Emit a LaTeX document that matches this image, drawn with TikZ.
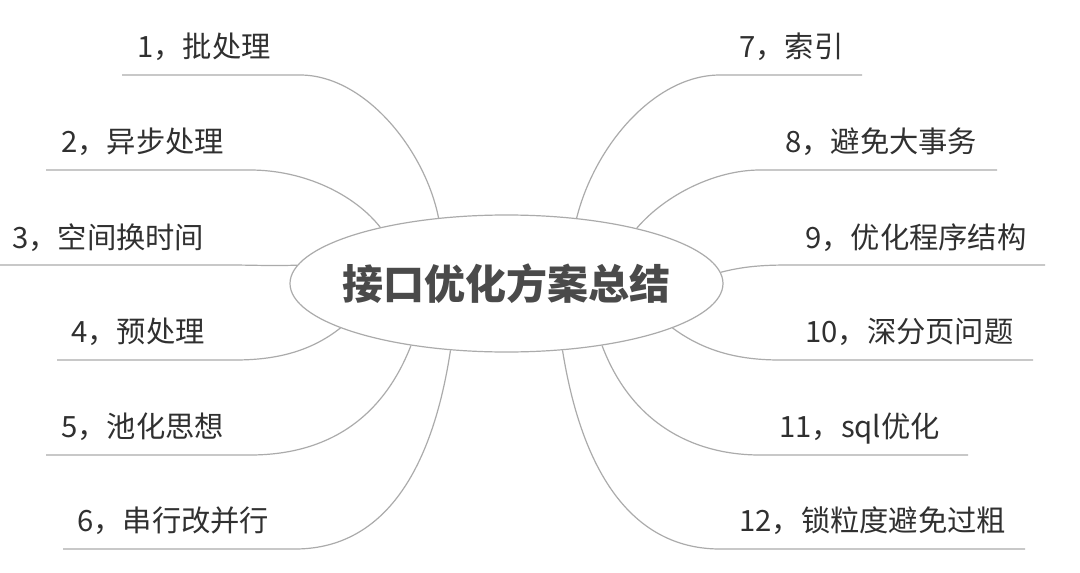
\documentclass[tikz,border=0pt]{standalone}
\usepackage{fontspec}
\setmainfont{Noto Sans CJK SC}
\usetikzlibrary{shapes.geometric}
\definecolor{linegray}{HTML}{ABABAB}
\definecolor{txt}{HTML}{303030}
\definecolor{ttl}{HTML}{4A4A4A}
\begin{document}
\begin{tikzpicture}[x=1pt,y=-1pt,
  branch/.style={draw=linegray,line width=1.2pt},
  lbl/.style={anchor=base west,inner sep=0pt,text=txt,font=\fontsize{29.3}{31}\selectfont},
  hub/.style={ellipse,draw=linegray,line width=1.2pt,minimum width=433pt,minimum height=137pt,inner sep=0pt,fill=white},
  ttlstyle/.style={text=ttl,font=\fontsize{41}{44}\selectfont\bfseries,inner sep=0pt}]
\useasboundingbox[fill=white] (0,0) rectangle (1080,573);
% junctions and free ends
\coordinate (j1) at (300,75);  \coordinate (e1) at (122,75);
\coordinate (j2) at (250,170); \coordinate (e2) at (46,170);
\coordinate (j3) at (230,265); \coordinate (e3) at (0,265);
\coordinate (j4) at (235,360); \coordinate (e4) at (57,360);
\coordinate (j5) at (250,455); \coordinate (e5) at (46,455);
\coordinate (j6) at (295,549); \coordinate (e6) at (63,549);
\coordinate (j7) at (720,75);  \coordinate (e7) at (862,75);
\coordinate (j8) at (760,170); \coordinate (e8) at (997,170);
\coordinate (j9) at (790,265); \coordinate (e9) at (1045,265);
\coordinate (j10) at (780,360); \coordinate (e10) at (1033,360);
\coordinate (j11) at (760,455); \coordinate (e11) at (968,455);
\coordinate (j12) at (720,549); \coordinate (e12) at (1025,549);
% central node
\node[hub] (c) at (506.5,283.5) {};
% connectors
\draw[branch] (c.136.7) .. controls (425,150) and (365,75) .. (j1) -- (e1);
\draw[branch] (c.156.8) .. controls (355,195) and (305,170) .. (j2) -- (e2);
\draw[branch] (c.175.8) .. controls (270,266) and (250,265) .. (j3) -- (e3);
\draw[branch] (c.195) .. controls (310,352) and (275,360) .. (j4) -- (e4);
\draw[branch] (c.213.3) .. controls (380,425) and (320,455) .. (j5) -- (e5);
\draw[branch] (c.230.7) .. controls (430,485) and (375,549) .. (j6) -- (e6);
\draw[branch] (c.43.7) .. controls (595,145) and (655,75) .. (j7) -- (e7);
\draw[branch] (c.23.3) .. controls (665,195) and (715,170) .. (j8) -- (e8);
\draw[branch] (c.3.85) .. controls (745,266) and (765,265) .. (j9) -- (e9);
\draw[branch] (c.-15) .. controls (705,352) and (740,360) .. (j10) -- (e10);
\draw[branch] (c.-33.6) .. controls (632,425) and (695,455) .. (j11) -- (e11);
\draw[branch] (c.-50.2) .. controls (584,485) and (640,549) .. (j12) -- (e12);
\node[ttlstyle] (t) at (c.center) {接口优化方案总结};
% labels
\node[lbl] (l1) at (137,57) {1，批处理};
\node[lbl] (l2) at (61,152) {2，异步处理};
\node[lbl] (l3) at (12,248) {3，空间换时间};
\node[lbl] (l4) at (71,342) {4，预处理};
\node[lbl] (l5) at (61,437) {5，池化思想};
\node[lbl] (l6) at (77,531) {6，串行改并行};
\node[lbl] (l7) at (739,57) {7，索引};
\node[lbl] (l8) at (785,152) {8，避免大事务};
\node[lbl] (l9) at (805,248) {9，优化程序结构};
\node[lbl] (l10) at (805,342) {10，深分页问题};
\node[lbl] (l11) at (779,437) {11，sql优化};
\node[lbl] (l12) at (739,531) {12，锁粒度避免过粗};
\end{tikzpicture}
\end{document}
